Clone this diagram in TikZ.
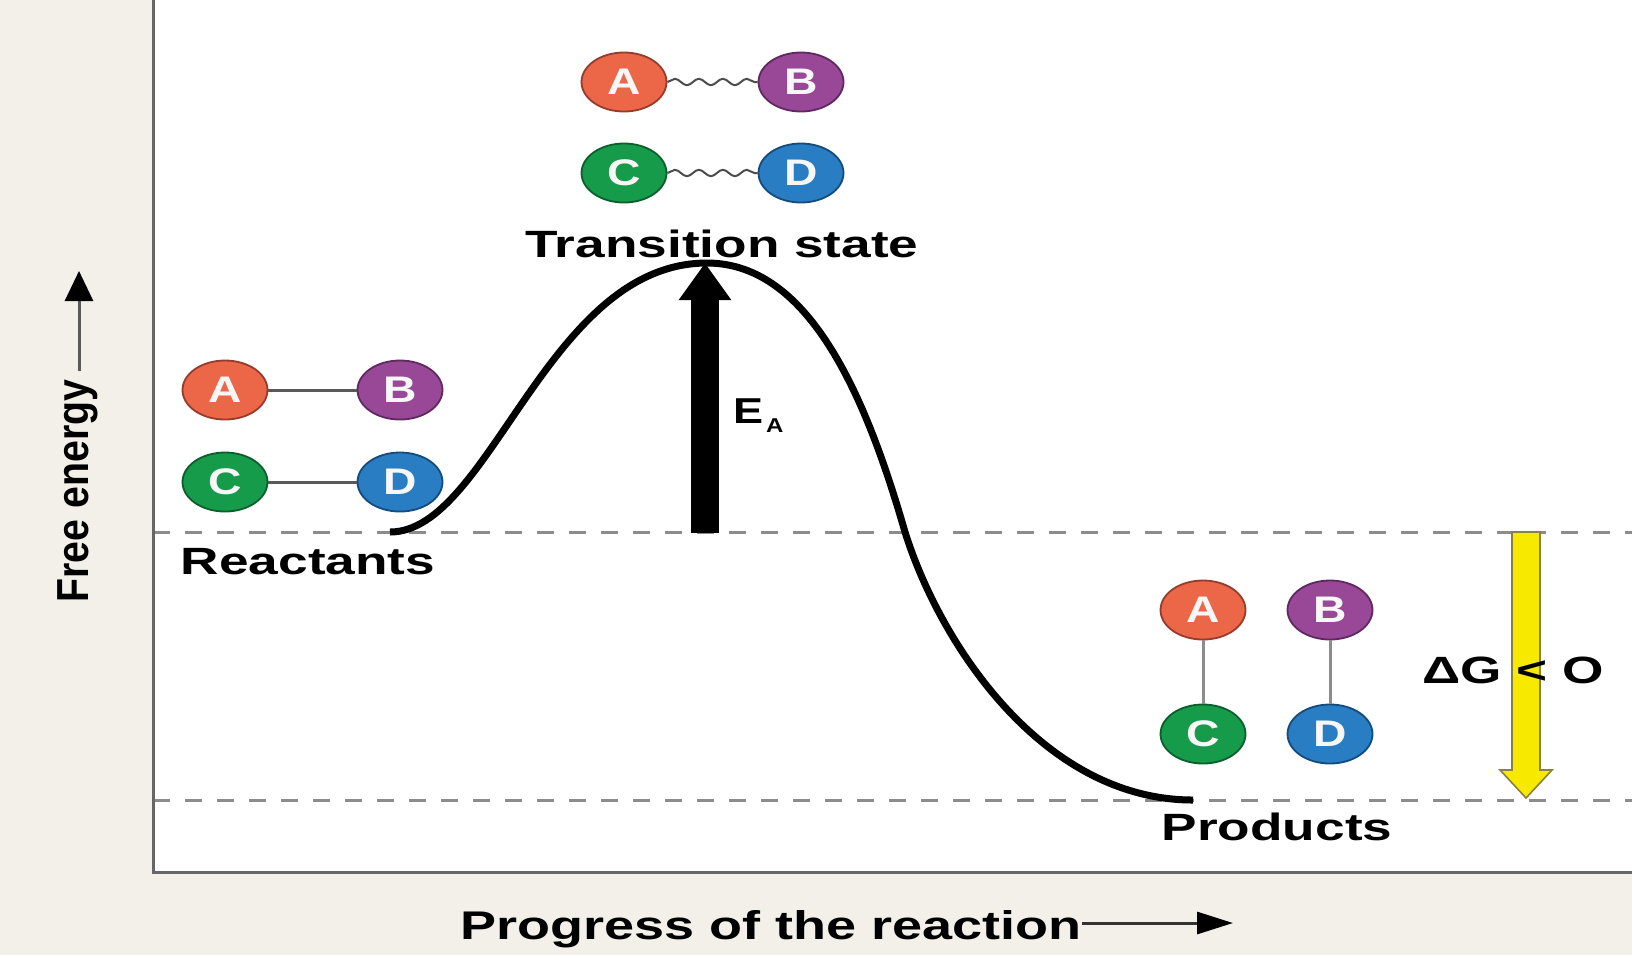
\documentclass[tikz,border=0pt]{standalone}
\usepackage{fontspec}
\usepackage{graphicx}
\usetikzlibrary{shapes.geometric,arrows.meta,decorations.pathmorphing,calc}
\newfontfamily\labfont{Liberation Sans}
\newcommand\hsx[2]{\scalebox{#1}[1]{#2}}
\definecolor{bgbeige}{RGB}{242,240,233}
\definecolor{molA}{RGB}{236,102,72}
\definecolor{molAd}{RGB}{150,60,45}
\definecolor{molB}{RGB}{152,72,150}
\definecolor{molBd}{RGB}{95,40,95}
\definecolor{molC}{RGB}{22,155,75}
\definecolor{molCd}{RGB}{10,95,45}
\definecolor{molD}{RGB}{40,125,195}
\definecolor{molDd}{RGB}{20,75,125}
\definecolor{ylw}{RGB}{247,234,0}
\definecolor{ylwd}{RGB}{135,130,60}
\begin{document}
\begin{tikzpicture}[x=0.5pt,y=-0.5pt,
  mol/.style={ellipse, minimum width=42.5pt, minimum height=29.5pt, inner sep=0pt,
    line width=0.9pt, text=white!94!gray,
    font=\labfont\bfseries\fontsize{18.5}{20}\selectfont},
  molA/.style={mol, fill=molA, draw=molAd},
  molB/.style={mol, fill=molB, draw=molBd},
  molC/.style={mol, fill=molC, draw=molCd},
  molD/.style={mol, fill=molD, draw=molDd},
  bond/.style={line width=1.5pt, draw=black!65},
  vbond/.style={line width=1.5pt, draw=black!45},
  wbond/.style={line width=1pt, draw=black!70, decorate,
    decoration={snake, segment length=12pt, amplitude=1.6pt}},
  lbl/.style={inner sep=0pt, font=\labfont\bfseries\fontsize{19}{21}\selectfont},
  levelline/.style={draw=black!45, line width=1.5pt, dash pattern=on 8.5pt off 7.5pt},
  axisline/.style={draw=black!60, line width=1.5pt},
  curveline/.style={draw=black, line width=3.5pt},
  thinarrow/.style={draw=black!65, line width=1.5pt},
  yarrow/.style={fill=ylw, draw=ylwd, line width=0.8pt, line join=miter}
]
\useasboundingbox (0,0) rectangle (1632,955);
\fill[bgbeige] (0,0) rectangle (1632,955);
\fill[white] (153,0) rectangle (1632,872);

% energy levels
\coordinate (rL) at (153,532); \coordinate (rR) at (1632,532);
\coordinate (pL) at (153,800); \coordinate (pR) at (1632,800);
\draw[levelline] (rL) -- (rR);
\draw[levelline] (pL) -- (pR);

% axes
\coordinate (yTop) at (153,0); \coordinate (orig) at (153,872); \coordinate (xEnd) at (1632,872);
\draw[axisline] (yTop) -- (orig) -- (xEnd);

% reaction curve
\coordinate (cStart) at (390,532); \coordinate (cPeak) at (707,263);
\coordinate (cMid) at (905,532); \coordinate (cEnd) at (1193,800);
\draw[curveline] (cStart) .. controls (490,532) and (547,263) .. (cPeak)
  .. controls (812,263) and (868,404) .. (cMid)
  .. controls (940,644) and (1043,800) .. (cEnd);

% activation energy arrow
\coordinate (eaBase) at (705,533); \coordinate (eaTip) at (705,263);
\draw[line width=14pt, -{Triangle[width=25pt,length=18.5pt]}] (eaBase) -- (eaTip);
\node[inner sep=0pt, anchor=base west, font=\labfont\bfseries\fontsize{18}{20}\selectfont] (ea) at (733,423) {\hsx{1.25}{E}};
\node[inner sep=0pt, anchor=base west, font=\labfont\bfseries\fontsize{10}{12}\selectfont] (eaSub) at ($(ea.base east)+(2,9)$) {\hsx{1.2}{A}};

% delta G arrow
\coordinate (dgTop) at (1526,532); \coordinate (dgTip) at (1526,798);
\filldraw[yarrow] ($(dgTop)+(-14,0)$) -- ($(dgTop)+(14,0)$) -- ($(dgTip)+(14,-28)$)
  -- ($(dgTip)+(26,-28)$) -- (dgTip) -- ($(dgTip)+(-26,-28)$) -- ($(dgTip)+(-14,-28)$) -- cycle;
\node[lbl, anchor=base] (dg) at (1513,683) {\hsx{1.4}{ΔG < O}};

% transition state molecules
\node[molA] (tA) at (624,82) {\hsx{1.25}{A}};
\node[molB] (tB) at (801,82) {\hsx{1.25}{B}};
\node[molC] (tC) at (624,173) {\hsx{1.25}{C}};
\node[molD] (tD) at (801,173) {\hsx{1.25}{D}};
\draw[wbond] (tA.east) -- (tB.west);
\draw[wbond] (tC.east) -- (tD.west);
\node[lbl, anchor=base] (tsLbl) at (722,257) {\hsx{1.4}{Transition state}};

% reactant molecules
\node[molA] (rA) at (225,390) {\hsx{1.25}{A}};
\node[molB] (rB) at (400,390) {\hsx{1.25}{B}};
\node[molC] (rC) at (225,482) {\hsx{1.25}{C}};
\node[molD] (rD) at (400,482) {\hsx{1.25}{D}};
\draw[bond] (rA) -- (rB);
\draw[bond] (rC) -- (rD);
\node[lbl, anchor=base] (rLbl) at (308,574) {\hsx{1.4}{Reactants}};

% product molecules
\node[molA] (pA) at (1203,610) {\hsx{1.25}{A}};
\node[molB] (pB) at (1330,610) {\hsx{1.25}{B}};
\node[molC] (pC) at (1203,734) {\hsx{1.25}{C}};
\node[molD] (pD) at (1330,734) {\hsx{1.25}{D}};
\draw[vbond] (pA) -- (pC);
\draw[vbond] (pB) -- (pD);
\node[lbl, anchor=base] (pLbl) at (1277,840) {\hsx{1.4}{Products}};

% axis labels
\node[inner sep=0pt, font=\labfont\bfseries\fontsize{16.5}{18}\selectfont] (fe) at (78,491)
  {\scalebox{1.36}[1.19]{\rotatebox{90}{Free energy}}};
\coordinate (feTip) at (79,271);
\draw[thinarrow, -{Triangle[width=14pt,length=15pt,black]}] ($(fe.north -| feTip)+(0,-8)$) -- (feTip);

\node[inner sep=0pt, anchor=base, font=\labfont\bfseries\fontsize{20}{22}\selectfont] (pg) at (771,939)
  {\hsx{1.35}{Progress of the reaction}};
\coordinate (pgTip) at (1233,923);
\draw[thinarrow, draw=black!80, -{Triangle[width=11pt,length=18pt,black]}] (pg.east |- pgTip) -- (pgTip);
\end{tikzpicture}
\end{document}
